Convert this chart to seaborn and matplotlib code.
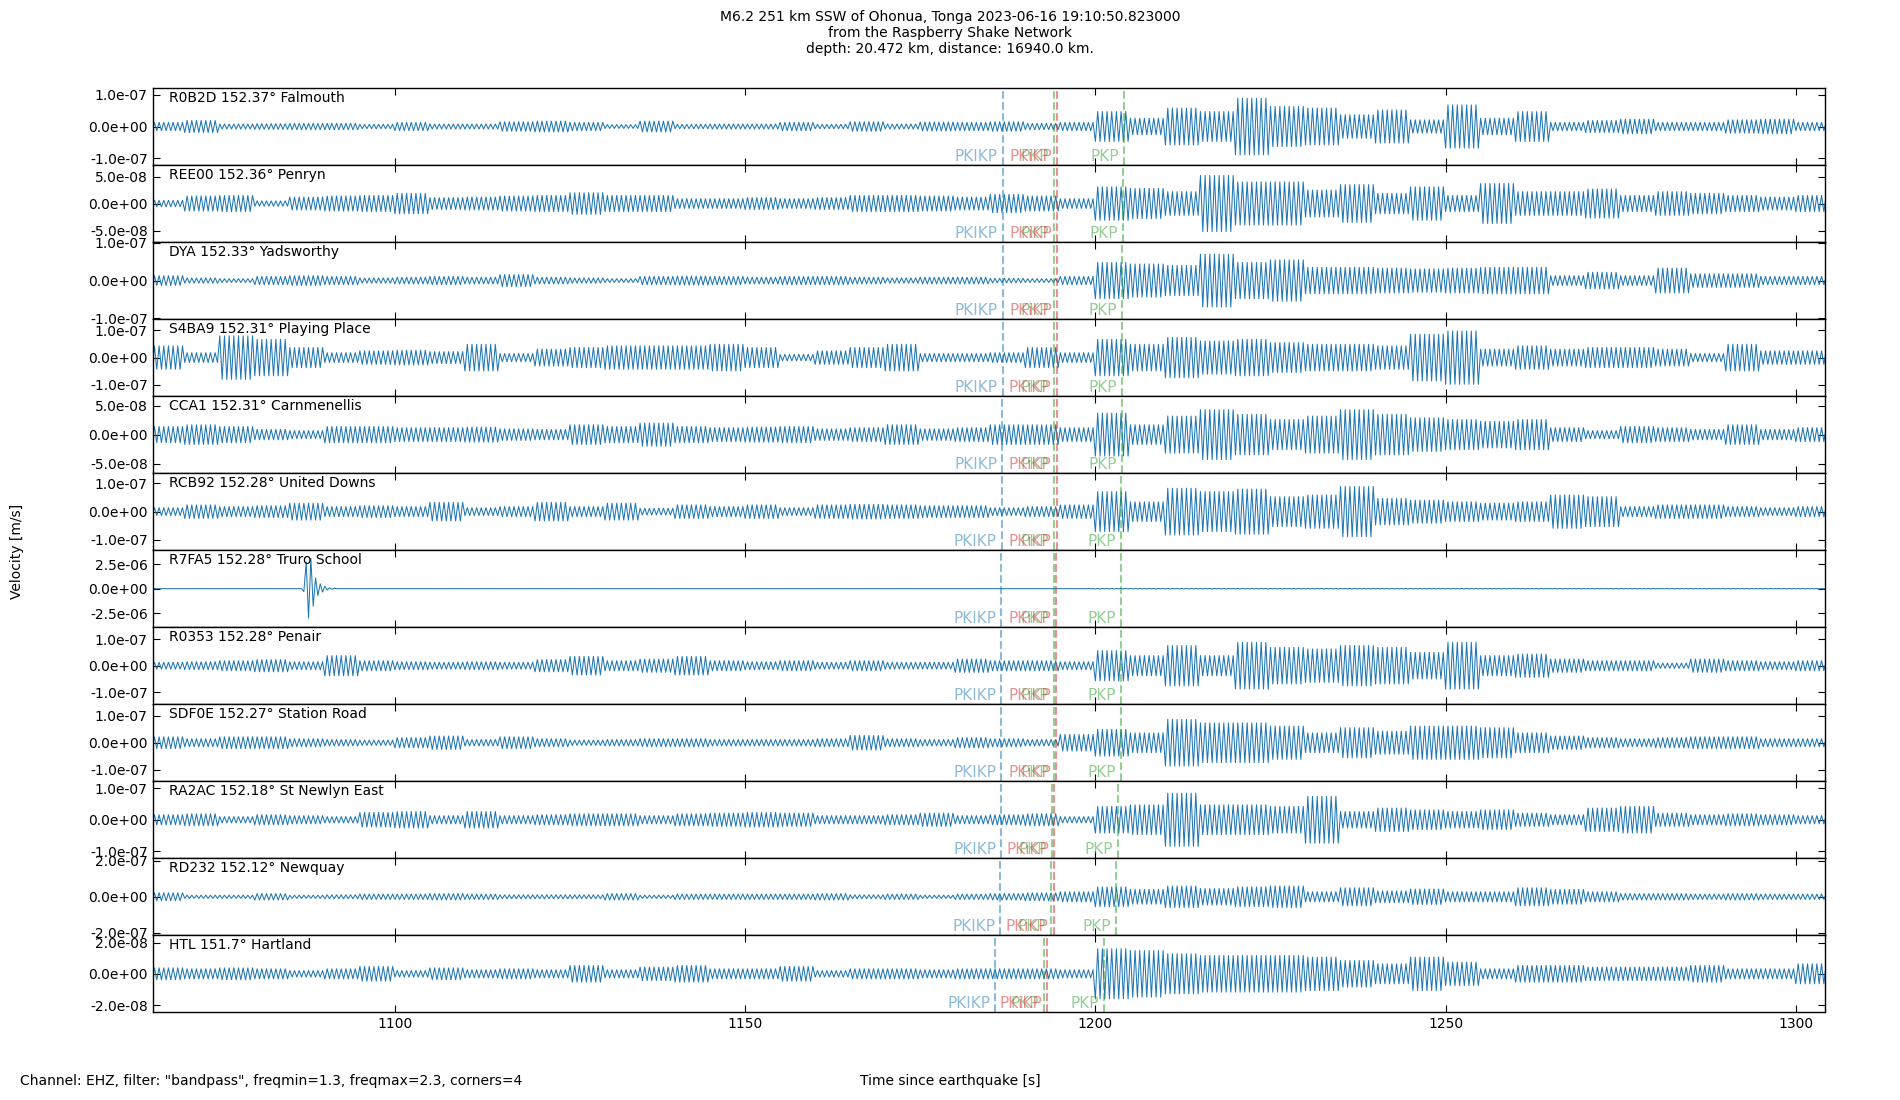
import numpy as np
import matplotlib
matplotlib.use("Agg")
import matplotlib.pyplot as plt
import matplotlib.ticker as mticker
import matplotlib.transforms as mtrans
import seaborn as sns

# texts
title = ("M6.2 251 km SSW of Ohonua, Tonga 2023-06-16 19:10:50.823000\n"
         "from the Raspberry Shake Network\n"
         "depth: 20.472 km, distance: 16940.0 km.")
footer = 'Channel: EHZ, filter: "bandpass", freqmin=1.3, freqmax=2.3, corners=4'
xlabel = "Time since earthquake [s]"
ylabel = "Velocity [m/s]"

stations = ["R0B2D", "REE00", "DYA", "S4BA9", "CCA1", "RCB92",
            "R7FA5", "R0353", "SDF0E", "RA2AC", "RD232", "HTL"]
distances = ["152.37", "152.36", "152.33", "152.31", "152.31", "152.28",
             "152.28", "152.28", "152.27", "152.18", "152.12", "151.7"]
places = ["Falmouth", "Penryn", "Yadsworthy", "Playing Place", "Carnmenellis",
          "United Downs", "Truro School", "Penair", "Station Road",
          "St Newlyn East", "Newquay", "Hartland"]

# phase arrivals [s]
t_PKIKP = [1186.74, 1186.74, 1186.74, 1186.74, 1186.69, 1186.64,
           1186.59, 1186.59, 1186.59, 1186.53, 1186.43, 1185.71]
t_PKP_1 = [1194.15, 1194.15, 1194.15, 1194.10, 1194.10, 1194.10,
           1194.05, 1194.05, 1194.05, 1193.79, 1193.63, 1192.60]
t_PKiKP = [1194.56, 1194.51, 1194.56, 1194.46, 1194.46, 1194.46,
           1194.41, 1194.41, 1194.41, 1194.15, 1194.05, 1193.12]
t_PKP_2 = [1204.02, 1203.92, 1203.87, 1203.77, 1203.77, 1203.66,
           1203.66, 1203.66, 1203.61, 1203.20, 1202.89, 1201.20]

# y range and tick value of each panel [nm/s]
ylims = [121, 71.3, 102, 141.5, 66.4, 136.5, 3930, 145, 143.5, 121.5, 214, 24.6]
yticks = [100, 50, 100, 100, 50, 100, 2500, 100, 100, 100, 200, 20]

# peak amplitude of each trace in 5 s windows from 1065 s to 1305 s [nm/s]
amp_R0B2D = [13, 19, 8, 9, 10, 10, 7, 13, 8, 8, 15, 17, 13, 6, 17, 7,
             8, 8, 13, 7, 15, 8, 14, 13, 15, 10, 13, 47, 26, 58, 47, 89,
             63, 58, 37, 52, 21, 68, 26, 47, 13, 19, 23, 13, 13, 21, 23, 13]
amp_REE00 = [6, 14, 15, 5, 12, 14, 15, 19, 11, 12, 14, 15, 20, 15, 15, 9,
             9, 11, 9, 11, 15, 15, 14, 12, 17, 14, 9, 31, 28, 22, 52, 40,
             40, 25, 35, 19, 31, 15, 37, 22, 22, 27, 15, 22, 19, 15, 12, 15]
amp_DYA = [13, 7, 5, 11, 13, 11, 7, 9, 11, 9, 16, 9, 7, 5, 11, 12,
           11, 9, 11, 11, 9, 7, 9, 9, 6, 5, 11, 48, 44, 40, 70, 48,
           55, 35, 35, 33, 31, 33, 35, 35, 13, 22, 13, 33, 18, 18, 11, 11]
amp_S4BA9 = [43, 18, 80, 67, 37, 18, 25, 27, 22, 49, 15, 31, 37, 43, 43, 43,
             49, 37, 12, 25, 37, 49, 15, 15, 18, 37, 18, 67, 49, 74, 61, 67,
             55, 49, 49, 43, 86, 98, 31, 43, 31, 37, 37, 31, 15, 49, 25, 25]
amp_CCA1 = [14, 17, 14, 9, 7, 14, 14, 12, 12, 13, 10, 9, 17, 14, 20, 14,
            12, 13, 14, 10, 12, 17, 10, 12, 17, 17, 12, 37, 17, 32, 43, 35,
            26, 32, 43, 35, 29, 26, 23, 26, 12, 7, 14, 12, 9, 17, 9, 12]
amp_RCB92 = [14, 24, 18, 21, 30, 18, 21, 18, 33, 14, 18, 33, 18, 30, 12, 24,
             18, 24, 14, 24, 26, 24, 21, 21, 14, 18, 24, 71, 35, 83, 71, 80,
             53, 59, 89, 47, 41, 35, 30, 35, 59, 53, 18, 24, 24, 18, 14, 18]
amp_R7FA5 = [5, 5, 5, 5, 5, 5, 5, 5, 8, 8, 8, 8, 5, 5, 5, 5,
             5, 5, 5, 5, 5, 5, 5, 5, 5, 5, 10, 30, 30, 30, 30, 30,
             30, 30, 30, 30, 30, 30, 30, 20, 20, 20, 20, 20, 20, 20, 20, 20]
amp_R0353 = [13, 15, 19, 23, 15, 38, 19, 15, 13, 15, 13, 23, 35, 19, 25, 35,
             19, 15, 19, 13, 19, 13, 13, 25, 19, 19, 15, 57, 38, 76, 38, 88,
             69, 63, 76, 69, 50, 88, 38, 44, 25, 19, 19, 10, 25, 19, 15, 19]
amp_SDF0E = [22, 15, 22, 22, 15, 12, 10, 19, 25, 12, 22, 15, 10, 12, 15, 15,
             12, 12, 12, 15, 27, 15, 12, 19, 15, 12, 31, 50, 37, 87, 74, 74,
             62, 37, 56, 43, 62, 62, 56, 37, 25, 19, 15, 19, 22, 22, 15, 15]
amp_RA2AC = [16, 19, 10, 16, 13, 10, 23, 26, 13, 26, 13, 16, 19, 19, 13, 19,
             21, 23, 21, 13, 13, 16, 21, 13, 16, 19, 10, 42, 47, 84, 47, 47,
             42, 74, 26, 37, 31, 26, 31, 21, 16, 37, 42, 21, 16, 19, 16, 13]
amp_RD232 = [22, 9, 9, 18, 9, 11, 15, 15, 18, 15, 11, 11, 11, 18, 9, 15,
             15, 15, 15, 18, 11, 15, 9, 15, 18, 22, 28, 55, 41, 60, 46, 55,
             60, 28, 50, 33, 43, 28, 28, 50, 41, 28, 18, 18, 15, 18, 15, 15]
amp_HTL = [3.8, 3.2, 3.8, 3.2, 2.1, 3.2, 4.7, 2.1, 3.8, 2.6, 3.2, 2.6, 5.3, 2.6, 4.3, 5.3,
           3.2, 3.2, 4.7, 2.1, 3.2, 3.2, 2.6, 3.2, 3.2, 3.2, 2.6, 16.0, 14.9, 12.8, 11.7, 11.7,
           11.7, 10.7, 8.5, 6.4, 10.7, 7.5, 3.2, 5.3, 5.3, 4.3, 4.3, 4.3, 5.3, 3.2, 3.2, 6.4]

# the local spike on R7FA5, successive swings from 1087 s [nm/s]
burst_R7FA5 = [-300, 2700, -3000, 3100, -1800, 1100, -700, 500, -350, 250, -150, 100, -60, 40]
burst_start = 1087.0

amplitudes = [amp_R0B2D, amp_REE00, amp_DYA, amp_S4BA9, amp_CCA1, amp_RCB92,
              amp_R7FA5, amp_R0353, amp_SDF0E, amp_RA2AC, amp_RD232, amp_HTL]

t0, win, swings = 1065.0, 5.0, 15      # 15 swings per 5 s window (~1.5 Hz)

sns.set_style("ticks", rc={"axes.edgecolor": "black", "text.color": "black",
                           "xtick.color": "black", "ytick.color": "black",
                           "axes.labelcolor": "black"})
plt.rcParams["font.family"] = ["DejaVu Sans"]
plt.rcParams["axes.linewidth"] = 1.0

fig, axes = plt.subplots(len(stations), 1, figsize=(19, 11), dpi=100, sharex=True)
fig.subplots_adjust(left=0.0803, right=0.9603, top=0.92, bottom=0.0797, hspace=0)

phases = [("PKIKP", t_PKIKP, "C0"), ("PKP", t_PKP_1, "C2"),
          ("PKiKP", t_PKiKP, "C3"), ("PKP", t_PKP_2, "C2")]

for i, ax in enumerate(axes):
    env = np.repeat(np.asarray(amplitudes[i], dtype=float), swings)
    t = t0 + np.arange(env.size) * win / swings
    y = env * np.where(np.arange(env.size) % 2 == 0, 1.0, -1.0)
    if stations[i] == "R7FA5":
        k = np.searchsorted(t, burst_start)
        y[k:k + len(burst_R7FA5)] = burst_R7FA5
    sns.lineplot(x=t, y=y * 1e-9, ax=ax, color="C0", linewidth=0.75,
                 estimator=None, sort=False)

    trans = mtrans.blended_transform_factory(ax.transData, ax.transAxes)
    for name, times, col in phases:
        ax.axvline(times[i], color=col, alpha=0.5, linestyle="--", linewidth=1.5)
        ax.annotate(name, xy=(times[i], 0), xycoords=trans, xytext=(-3.6, 2.8),
                    textcoords="offset points", ha="right", va="baseline",
                    color=col, alpha=0.5, fontsize=11)

    ax.text(0.01, 0.965, f"{stations[i]} {distances[i]}° {places[i]}",
            transform=ax.transAxes, ha="left", va="top", fontsize=10)

    ax.set_ylim(-ylims[i] * 1e-9, ylims[i] * 1e-9)
    ax.set_yticks([-yticks[i] * 1e-9, 0, yticks[i] * 1e-9])
    ax.yaxis.set_major_formatter(mticker.FormatStrFormatter("%.1e"))
    ax.tick_params(axis="both", direction="in", top=True, right=True, length=5,
                   labelsize=10)
    ax.set_ylabel("")
    ax.set_xlabel("")

axes[-1].set_xlim(1065.4, 1304.1)
axes[-1].set_xticks([1100, 1150, 1200, 1250, 1300])

fig.text(0.5, 0.991, title, ha="center", va="top", fontsize=10, linespacing=1.2)
fig.text(0.5, 0.017, xlabel, ha="center", va="center", fontsize=10)
fig.text(0.0105, 0.017, footer, ha="left", va="center", fontsize=10)
fig.text(0.009, 0.499, ylabel, ha="center", va="center", rotation=90, fontsize=10)

fig.savefig("out.png", dpi=100)
